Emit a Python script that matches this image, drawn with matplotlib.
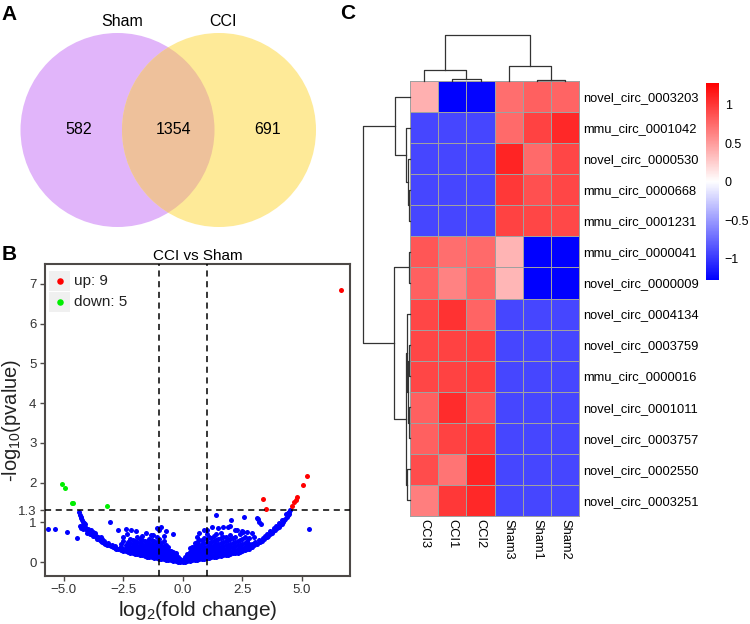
import numpy as np
import matplotlib
matplotlib.use('Agg')
import matplotlib.pyplot as plt
from matplotlib.patches import Circle, Rectangle
from matplotlib.colors import LinearSegmentedColormap

plt.rcParams['font.family'] = ['Liberation Sans', 'DejaVu Sans']
plt.rcParams['mathtext.fontset'] = 'custom'
plt.rcParams['mathtext.rm'] = 'Liberation Sans'

# ---------------- data ----------------
# Venn (A)
venn_names = ['Sham', 'CCI']
venn_counts = [582, 1354, 691]   # only Sham, shared, only CCI

# Volcano (B)
up_x = [6.64, 5.23, 5.05, 4.81, 4.74, 4.68, 4.60, 3.36, 3.51]
up_y = [6.84, 2.17, 1.94, 1.63, 1.56, 1.50, 1.42, 1.59, 1.34]
down_x = [-5.05, -4.94, -4.66, -4.59, -3.16]
down_y = [1.97, 1.86, 1.49, 1.48, 1.42]

left_arm = [(-4.35, 1.25), (-4.32, 1.19), (-4.29, 1.14), (-4.26, 1.10), (-4.22, 1.06), (-4.18, 1.02),
            (-4.14, 0.98), (-4.10, 0.95), (-4.31, 0.90), (-4.27, 0.86), (-4.22, 0.90), (-4.17, 0.84),
            (-4.12, 0.88), (-4.07, 0.82), (-4.02, 0.80), (-3.97, 0.84), (-3.92, 0.77), (-3.87, 0.80),
            (-3.82, 0.73), (-3.77, 0.76), (-3.72, 0.69), (-3.67, 0.72), (-3.62, 0.65), (-3.57, 0.62),
            (-3.52, 0.58), (-3.47, 0.56), (-3.42, 0.53), (-3.37, 0.51), (-3.32, 0.48), (-3.25, 0.46),
            (-3.18, 0.44), (-3.10, 0.42), (-3.02, 0.40), (-2.94, 0.38), (-2.86, 0.36), (-2.78, 0.34),
            (-2.70, 0.33), (-3.90, 0.70), (-3.60, 0.58), (-3.45, 0.62), (-3.75, 0.66), (-4.00, 0.74),
            (-3.30, 0.53), (-2.95, 0.43), (-3.85, 0.72), (-3.65, 0.64), (-3.40, 0.57), (-3.15, 0.49),
            (-2.85, 0.41), (-2.62, 0.36)]
right_arm = [(4.50, 1.31), (4.47, 1.27), (4.43, 1.23), (4.40, 1.18), (4.36, 1.14), (4.31, 1.09),
             (4.26, 1.05), (4.22, 1.02), (4.15, 0.97), (4.08, 0.93), (4.02, 0.89), (3.95, 0.85),
             (3.87, 0.81), (3.80, 0.77), (3.73, 0.74), (3.66, 0.70), (3.59, 0.66), (3.52, 0.62),
             (3.42, 0.58), (3.33, 0.54), (3.24, 0.51), (3.12, 0.46), (3.00, 0.42), (2.88, 0.38),
             (2.76, 0.35), (4.33, 1.20), (4.18, 1.06), (4.05, 0.99), (3.92, 0.92), (3.82, 0.86),
             (3.68, 0.78), (3.55, 0.71), (3.45, 0.65), (3.35, 0.60), (4.45, 1.20), (3.20, 0.56),
             (3.05, 0.50), (2.92, 0.45)]
core_cols = [
    (-2.6, [0.30, 0.38, 0.46]), (-2.5, [0.28, 0.34, 0.52, 0.62]), (-2.4, [0.27, 0.35, 0.44]),
    (-2.3, [0.26, 0.33, 0.41, 0.50]), (-2.2, [0.24, 0.31, 0.39, 0.47, 0.58]),
    (-2.1, [0.23, 0.30, 0.37, 0.45, 0.55]), (-2.0, [0.21, 0.28, 0.35, 0.43, 0.52]),
    (-1.9, [0.20, 0.27, 0.34, 0.41, 0.50, 0.62]), (-1.8, [0.18, 0.25, 0.32, 0.40, 0.48, 0.57]),
    (-1.7, [0.17, 0.24, 0.31, 0.38, 0.46, 0.55, 0.66]), (-1.6, [0.15, 0.22, 0.29, 0.36, 0.44, 0.52]),
    (-1.5, [0.14, 0.21, 0.28, 0.35, 0.42, 0.50]), (-1.4, [0.13, 0.19, 0.26, 0.33, 0.40, 0.48, 0.58]),
    (-1.3, [0.12, 0.18, 0.25, 0.32, 0.39, 0.46, 0.55]), (-1.2, [0.11, 0.17, 0.23, 0.30, 0.37, 0.44, 0.52]),
    (-1.1, [0.10, 0.16, 0.22, 0.29, 0.36, 0.43, 0.50, 0.62]),
    (-1.0, [0.09, 0.15, 0.21, 0.28, 0.35, 0.42, 0.49, 0.57]),
    (-0.9, [0.08, 0.14, 0.20, 0.27, 0.34, 0.41, 0.48]), (-0.8, [0.07, 0.13, 0.19, 0.26, 0.33, 0.40, 0.52]),
    (-0.7, [0.06, 0.12, 0.18, 0.25, 0.32, 0.44]), (-0.6, [0.05, 0.10, 0.16, 0.23, 0.30, 0.38]),
    (-0.5, [0.04, 0.09, 0.15, 0.21, 0.28]), (-0.4, [0.03, 0.08, 0.13, 0.19, 0.26]),
    (-0.3, [0.02, 0.07, 0.12, 0.17, 0.22]), (-0.2, [0.01, 0.05, 0.10, 0.14]),
    (-0.1, [0.01, 0.04, 0.08]), (0.0, [0.00, 0.03, 0.06]), (0.1, [0.01, 0.04, 0.08, 0.12]),
    (0.2, [0.02, 0.06, 0.11, 0.16, 0.21]), (0.3, [0.03, 0.08, 0.14, 0.20, 0.26, 0.35]),
    (0.4, [0.04, 0.10, 0.16, 0.23, 0.30, 0.38]), (0.5, [0.05, 0.11, 0.18, 0.25, 0.32, 0.40, 0.48]),
    (0.6, [0.06, 0.12, 0.19, 0.26, 0.33, 0.41, 0.50, 0.62]),
    (0.7, [0.07, 0.13, 0.20, 0.27, 0.35, 0.43, 0.55]), (0.8, [0.08, 0.14, 0.21, 0.29, 0.37, 0.45, 0.56]),
    (0.9, [0.09, 0.15, 0.22, 0.30, 0.38, 0.47, 0.60]),
    (1.0, [0.10, 0.16, 0.23, 0.31, 0.39, 0.48, 0.58, 0.70]),
    (1.1, [0.11, 0.17, 0.24, 0.32, 0.40, 0.49, 0.62]), (1.2, [0.12, 0.18, 0.25, 0.33, 0.41, 0.50, 0.60]),
    (1.3, [0.13, 0.19, 0.27, 0.35, 0.43, 0.52, 0.66]), (1.4, [0.14, 0.21, 0.28, 0.36, 0.45, 0.55, 0.70]),
    (1.5, [0.15, 0.22, 0.30, 0.38, 0.46, 0.57]), (1.6, [0.16, 0.23, 0.31, 0.39, 0.48, 0.60, 0.72]),
    (1.7, [0.17, 0.24, 0.32, 0.41, 0.50, 0.62]), (1.8, [0.18, 0.26, 0.34, 0.43, 0.52, 0.64]),
    (1.9, [0.19, 0.27, 0.35, 0.44, 0.55]), (2.0, [0.20, 0.28, 0.37, 0.46, 0.58, 0.68]),
    (2.1, [0.22, 0.30, 0.38, 0.48, 0.60]), (2.2, [0.23, 0.31, 0.40, 0.50, 0.62]),
    (2.3, [0.24, 0.33, 0.42, 0.52]), (2.4, [0.26, 0.34, 0.44, 0.55, 0.70]),
    (2.5, [0.28, 0.36, 0.46, 0.58]), (2.6, [0.30, 0.38, 0.48, 0.62]), (2.7, [0.32, 0.42, 0.52]),
    (2.8, [0.34, 0.45, 0.60]), (2.9, [0.37]),
]
scattered = [(-2.70, 0.81), (-2.38, 0.82), (-2.18, 0.81), (-1.96, 0.78), (-1.54, 0.74), (-1.23, 0.68),
             (-0.92, 0.89), (-0.70, 0.79), (-0.42, 0.70), (-1.09, 0.87), (-1.00, 0.80), (-0.80, 0.66),
             (-2.35, 0.71), (-1.35, 0.68), (1.01, 0.81), (1.22, 0.89), (1.49, 0.87), (1.70, 0.89),
             (1.91, 0.89), (2.27, 0.81), (2.54, 0.76), (2.89, 0.74), (0.90, 0.80), (0.70, 0.72),
             (2.00, 0.91), (2.20, 0.81), (2.50, 0.78), (2.70, 0.76), (3.00, 0.62), (1.38, 1.19),
             (2.01, 1.05), (2.57, 1.13), (3.10, 1.10), (3.15, 1.08), (3.19, 1.02), (3.29, 0.97),
             (5.31, 0.83), (-5.64, 0.83), (-5.37, 0.84), (-4.84, 0.76), (-4.45, 0.60), (-3.05, 1.02)]

# Heatmap (C)
samples = ['CCI3', 'CCI1', 'CCI2', 'Sham3', 'Sham1', 'Sham2']
circ_ids = ['novel_circ_0003203', 'mmu_circ_0001042', 'novel_circ_0000530', 'mmu_circ_0000668',
            'mmu_circ_0001231', 'mmu_circ_0000041', 'novel_circ_0000009', 'novel_circ_0004134',
            'novel_circ_0003759', 'mmu_circ_0000016', 'novel_circ_0001011', 'novel_circ_0003757',
            'novel_circ_0002550', 'novel_circ_0003251']
zscores = [
    [0.40, -1.28, -1.25, 0.73, 0.80, 0.78],
    [-0.92, -0.92, -0.92, 0.75, 0.95, 1.08],
    [-0.92, -0.92, -0.92, 1.10, 0.75, 0.93],
    [-0.92, -0.92, -0.92, 1.00, 0.88, 0.93],
    [-0.92, -0.92, -0.92, 0.95, 0.93, 0.92],
    [0.85, 0.73, 0.75, 0.38, -1.28, -1.28],
    [0.80, 0.63, 0.78, 0.37, -1.28, -1.28],
    [0.93, 1.03, 0.78, -0.92, -0.92, -0.92],
    [0.93, 0.95, 0.96, -0.92, -0.92, -0.92],
    [0.93, 0.95, 0.97, -0.92, -0.92, -0.92],
    [0.80, 1.06, 0.88, -0.92, -0.92, -0.92],
    [0.80, 0.95, 1.00, -0.92, -0.92, -0.92],
    [0.90, 0.70, 1.10, -0.92, -0.92, -0.92],
    [0.65, 1.00, 1.08, -0.92, -0.92, -0.92],
]
# linkage: (left, right, height) ; leaves in display order
col_merges = [(1, 2, 0.5), (0, 6, 2.4), (4, 5, 0.3), (3, 8, 3.2), (7, 9, 10.0)]
row_merges = [(3, 4, 0.15), (2, 14, 0.5), (1, 15, 0.93), (0, 16, 3.2), (5, 6, 0.28),
              (8, 9, 0.2), (10, 11, 0.28), (19, 20, 0.43), (7, 21, 0.64), (12, 13, 0.54),
              (22, 23, 0.86), (18, 24, 3.36), (17, 25, 10.0)]

# ---------------- figure ----------------
W, H = 750, 624
fig = plt.figure(figsize=(7.5, 6.24), dpi=100)


def px_axes(x0, y0, x1, y1):
    return fig.add_axes([x0 / W, 1 - y1 / H, (x1 - x0) / W, (y1 - y0) / H])


def panel_letter(x, y, s):
    fig.text(x / W, 1 - y / H, s, fontsize=15, fontweight='bold', ha='center', va='center')


# ----- A: Venn -----
ax = px_axes(0, 0, 330, 240)
ax.set_xlim(0, 330)
ax.set_ylim(240, 0)
ax.axis('off')
r, cy, c1, c2 = 97, 130, 117.5, 219
sham_c = Circle((c1, cy), r, fc='#E1B5FA', ec='none')
cci_c = Circle((c2, cy), r, fc='#FEEA98', ec='none')
ax.add_patch(sham_c)
ax.add_patch(cci_c)
lens = Circle((c2, cy), r, fc='#EEC19B', ec='none')
ax.add_patch(lens)
lens.set_clip_path(sham_c)
ax.text(c1 + 5, 22, venn_names[0], ha='center', va='center', fontsize=11.5)
ax.text(c2 + 4, 22, venn_names[1], ha='center', va='center', fontsize=11.5)
ax.text(c1 - 0.4 * r, cy, str(venn_counts[0]), ha='center', va='center', fontsize=11.5)
ax.text((c1 + c2) / 2 + 5, cy, str(venn_counts[1]), ha='center', va='center', fontsize=11.5)
ax.text(c2 + 0.5 * r, cy, str(venn_counts[2]), ha='center', va='center', fontsize=11.5)
panel_letter(9.5, 14, 'A')

# ----- B: volcano -----
ax = px_axes(45, 264, 350, 576)
blue_pts = left_arm + right_arm + scattered + [(x, y) for x, ys in core_cols for y in ys]
bx = [p[0] for p in blue_pts]
by = [p[1] for p in blue_pts]
ax.scatter(bx, by, s=13, c='#0000FF', lw=0, zorder=2)
ax.scatter(down_x, down_y, s=13, c='#00EE00', lw=0, zorder=3)
ax.scatter(up_x, up_y, s=13, c='#FF0000', lw=0, zorder=3)
for xv in (-1, 1):
    ax.axvline(xv, color='black', lw=1.1, ls=(0, (4, 3)), zorder=4)
ax.axhline(1.3, color='black', lw=1.1, ls=(0, (4, 3)), zorder=4)
ax.set_xlim(-5.78, 7.02)
ax.set_ylim(-0.35, 7.5)
ax.set_xticks([-5, -2.5, 0, 2.5, 5])
ax.set_xticklabels(['\u22125.0', '\u22122.5', '0.0', '2.5', '5.0'])
ax.set_yticks([0, 1, 1.3, 2, 3, 4, 5, 6, 7])
ax.set_yticklabels(['0', '1', '1.3', '2', '3', '4', '5', '6', '7'])
for sp in ax.spines.values():
    sp.set_color('#4d4947')
    sp.set_linewidth(1.5)
ax.tick_params(length=3.6, width=1, color='#4d4947', labelcolor='#333333', labelsize=9.5, pad=2.5)
ax.set_xlabel(r'log$_\mathregular{2}$(fold change)', fontsize=15, color='#222222')
ax.set_ylabel(r'-log$_\mathregular{10}$(pvalue)', fontsize=14.5, color='#222222')
ax.xaxis.set_label_coords(0.5, -0.075)
ax.yaxis.set_label_coords(-0.072, 0.5)
ax.set_title('CCI vs Sham', fontsize=11, pad=3)
# legend keys
for i, (lab, col) in enumerate([('up: %d' % len(up_x), '#FF0000'), ('down: %d' % len(down_x), '#00EE00')]):
    y0 = 0.978 - (i + 1) * 0.0675
    ax.add_patch(Rectangle((0.014, y0 + 0.002), 0.068, 0.0655, transform=ax.transAxes,
                           fc='#F0F0F0', ec='none', zorder=5))
    ax.scatter([0.048], [y0 + 0.034], s=22, c=col, lw=0, transform=ax.transAxes, zorder=6)
    ax.text(0.095, y0 + 0.034, lab, transform=ax.transAxes, fontsize=11, va='center',
            color='#222222', zorder=6)
panel_letter(9, 254, 'B')

# ----- C: heatmap -----
hx0, hy0, hx1, hy1 = 410, 81.3, 579.3, 515.7
cmap = LinearSegmentedColormap.from_list('bwr_ph', ['#0000FF', '#FFFFFF', '#FF0000'], N=256)
ax = px_axes(hx0, hy0, hx1, hy1)
mesh = ax.pcolormesh(np.array(zscores), cmap=cmap, vmin=-1.28, vmax=1.29,
                     edgecolors='#a0a0a0', linewidth=0.5)
mesh.set_clip_on(False)
ax.set_xlim(0, len(samples))
ax.set_ylim(len(circ_ids), 0)
for sp in ax.spines.values():
    sp.set_visible(False)
ax.yaxis.tick_right()
ax.set_yticks(np.arange(len(circ_ids)) + 0.5)
ax.set_yticklabels(circ_ids, fontsize=9.3)
ax.set_xticks(np.arange(len(samples)) + 0.5)
ax.set_xticklabels(samples, fontsize=9.3, rotation=-90, va='top', ha='center')
ax.tick_params(length=0, pad=2.5)


def draw_dendro(ax, merges, n, vertical_leaves):
    pos = {i: i + 0.5 for i in range(n)}
    hgt = {i: 0.0 for i in range(n)}
    for k, (a, b, h) in enumerate(merges):
        xs = [pos[a], pos[a], pos[b], pos[b]]
        ys = [hgt[a], h, h, hgt[b]]
        if vertical_leaves:
            ax.plot(ys, xs, color='#333333', lw=0.9, clip_on=False)
        else:
            ax.plot(xs, ys, color='#333333', lw=0.9, clip_on=False)
        pos[n + k] = (pos[a] + pos[b]) / 2
        hgt[n + k] = h


dax = px_axes(hx0, hy0 - 46.3, hx1, hy0)
dax.set_xlim(0, len(samples))
dax.set_ylim(0, 10)
dax.axis('off')
draw_dendro(dax, col_merges, len(samples), False)

rax = px_axes(hx0 - 46.7, hy0, hx0, hy1)
rax.set_xlim(10, 0)
rax.set_ylim(len(circ_ids), 0)
rax.axis('off')
draw_dendro(rax, row_merges, len(circ_ids), True)

cax = px_axes(706, 82.7, 719.3, 280)
cb = fig.colorbar(mesh, cax=cax, ticks=[-1, -0.5, 0, 0.5, 1])
cb.outline.set_visible(False)
cb.ax.set_yticklabels(['\u22121', '\u22120.5', '0', '0.5', '1'])
cb.ax.tick_params(length=0, labelsize=9, pad=4)
panel_letter(348, 13.5, 'C')

fig.savefig('out.png', dpi=100)
